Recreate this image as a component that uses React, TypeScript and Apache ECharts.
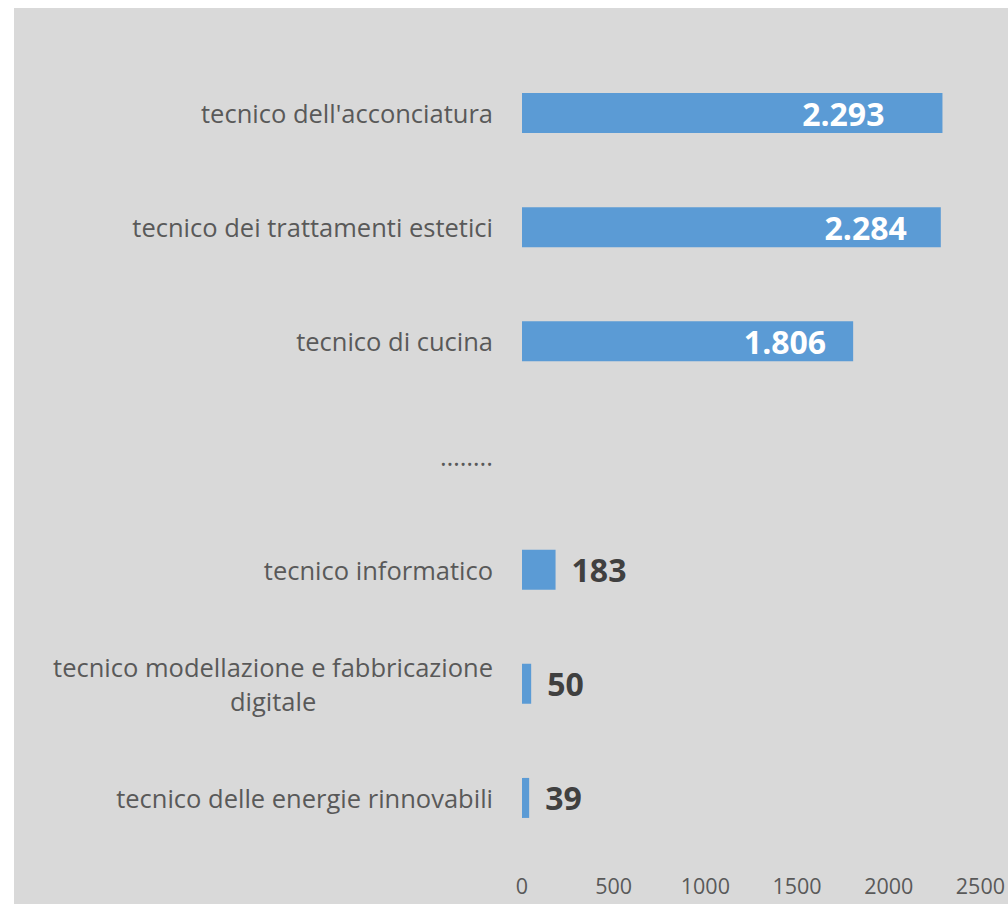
import React, { useEffect, useRef } from "react";
import * as echarts from "echarts";

const categories = [
  "tecnico dell'acconciatura",
  "tecnico dei trattamenti estetici",
  "tecnico di cucina",
  "……..",
  "tecnico informatico",
  "tecnico modellazione e fabbricazione\ndigitale",
  "tecnico delle energie rinnovabili",
];
const values: (number | null)[] = [2293, 2284, 1806, null, 183, 50, 39];
const insideLabel = [true, true, true, false, false, false, false];
const insideDistance = [58, 34, 27, 0, 0, 0, 0];
const xTicks = [0, 500, 1000, 1500, 2000, 2500];

const fmt = (v: number) => String(v).replace(/\B(?=(\d{3})+(?!\d))/g, ".");

export default function App() {
  const ref = useRef<HTMLDivElement>(null);
  useEffect(() => {
    if (!ref.current) return;
    const chart = echarts.init(ref.current, undefined, { renderer: "svg" });
    const FONT = "'Open Sans', sans-serif";
    chart.setOption({
      animation: false,
      backgroundColor: "#d9d9d9",
      grid: { left: 508, right: 23, top: 48, bottom: 49, containLabel: false },
      xAxis: {
        type: "value",
        min: xTicks[0],
        max: xTicks[xTicks.length - 1],
        interval: 500,
        axisLine: { show: false },
        axisTick: { show: false },
        splitLine: { show: false },
        axisLabel: {
          color: "#595959",
          fontSize: 21.5,
          fontFamily: FONT,
          margin: 19,
          formatter: (v: number) => String(v),
        },
      },
      yAxis: {
        type: "category",
        inverse: true,
        data: categories,
        axisLine: { show: false },
        axisTick: { show: false },
        axisLabel: {
          margin: 29,
          formatter: (v: string) =>
            v
              .split("\n")
              .map((s) => `{a|${s}}`)
              .join("\n"),
          rich: {
            a: {
              color: "#595959",
              fontSize: 25.5,
              fontFamily: FONT,
              lineHeight: 34,
              align: "center",
            },
          },
        },
      },
      series: [
        {
          type: "bar",
          barWidth: 40,
          itemStyle: { color: "#5b9bd5" },
          data: values.map((v, i) => ({
            value: v,
            label: {
              show: v !== null,
              position: insideLabel[i] ? "insideRight" : "right",
              distance: insideLabel[i] ? insideDistance[i] : 16,
              color: insideLabel[i] ? "#ffffff" : "#404040",
              fontSize: 32,
              fontWeight: "bold",
              fontFamily: FONT,
              formatter: (p: any) => fmt(p.value),
            },
          })),
        },
      ],
    });
    return () => chart.dispose();
  }, []);
  return (
    <div
      ref={ref}
      style={{ position: "fixed", left: 14, top: 8, width: 994, height: 896 }}
    />
  );
}
